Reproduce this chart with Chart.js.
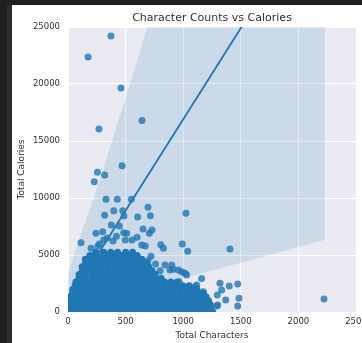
<!DOCTYPE html>
<html>
<head>
<meta charset="utf-8">
<script src="https://cdn.jsdelivr.net/npm/chart.js@4.4.1/dist/chart.umd.min.js"></script>
<style>
  html, body { margin: 0; padding: 0; background: #1f1f1f; width: 362px; height: 343px; overflow: hidden; }
  #edge { position: absolute; left: 7px; top: 5px; width: 5px; height: 338px; background: #2c2c2c; }
  #panel { position: absolute; left: 12px; top: 5px; width: 350px; height: 338px; background: #ffffff; }
  canvas { display: block; }
</style>
</head>
<body>
<div id="edge"></div>
<div id="panel"><canvas id="chart" width="350" height="338"></canvas></div>
<script>
const chartTitle = 'Character Counts vs Calories';
const xTitle = 'Total Characters';
const yTitle = 'Total Calories';

const xTicks = [0, 500, 1000, 1500, 2000, 2500];
const yTicks = [0, 5000, 10000, 15000, 20000, 25000];

// recipes away from the dense cluster
const sparseChars = [
  373, 174, 460, 642, 269, 469, 255, 318, 228, 330, 428, 550, 694, 1024, 397, 475,
  318, 486, 605, 715, 376, 446, 651, 729, 706, 243, 301, 483, 510, 497, 556, 391,
  310, 272, 113, 200, 260, 340, 420, 600, 671, 640, 805, 828, 992, 1039, 1406, 694,
  720, 760, 799, 842, 900, 914, 885, 958, 987, 1016, 1030, 1160, 966, 1117, 1102, 1175,
  1319, 1400, 1473, 1334, 1296, 1369, 1484, 1473, 1291, 1300, 1218, 1233, 2222
];
const sparseCalories = [
  24210, 22370, 19650, 16800, 16050, 12830, 12250, 12020, 11430, 9880, 9880, 9880, 9180, 8660, 8890, 8890,
  8480, 8420, 8330, 8450, 7630, 7540, 7280, 7190, 6900, 6900, 7050, 6960, 6900, 6320, 6320, 6230,
  6320, 5970, 6080, 5590, 5790, 6500, 6650, 6550, 5790, 5880, 5910, 5590, 5970, 5320, 5530, 4500,
  4900, 4200, 3620, 4120, 4120, 3750, 3680, 3680, 3540, 3390, 3250, 2930, 2660, 2370, 2220, 1780,
  2520, 2280, 2460, 1930, 1490, 1050, 1200, 530, 530, 610, 900, 240, 1140
];

// dense cluster of ordinary recipes, one row per calorie level
const clusterCalories = [0, 330, 660, 990, 1320, 1650, 1980, 2310, 2640, 2970, 3300, 3630, 3960, 4290, 4620, 4950, 5250];
const clusterChars = [
  [0, 52, 108, 163, 221, 274, 331, 383, 442, 497, 548, 604, 662, 713, 771, 826, 879, 934, 992, 1044, 1101, 1153, 1208, 1256],
  [0, 25, 80, 136, 190, 248, 302, 357, 412, 468, 522, 577, 633, 688, 742, 798, 853, 907, 963, 1018, 1072, 1128, 1183, 1240],
  [0, 54, 110, 166, 220, 276, 330, 386, 440, 495, 551, 606, 660, 716, 770, 825, 880, 936, 990, 1046, 1100, 1155, 1210, 1235],
  [0, 26, 81, 137, 192, 247, 303, 358, 412, 467, 523, 578, 632, 688, 743, 797, 852, 908, 962, 1017, 1073, 1128, 1182, 1220],
  [12, 65, 120, 175, 230, 285, 340, 395, 450, 505, 560, 615, 670, 725, 780, 835, 890, 945, 1000, 1055, 1110, 1160, 1200],
  [40, 94, 149, 204, 259, 314, 369, 424, 479, 534, 589, 644, 699, 754, 809, 864, 919, 974, 1029, 1084, 1139, 1175],
  [41, 96, 151, 206, 261, 316, 371, 426, 481, 536, 591, 646, 701, 756, 811, 866, 921, 976, 1031, 1086, 1120],
  [62, 117, 172, 227, 282, 337, 392, 447, 502, 557, 612, 667, 722, 777, 832, 887, 942, 997, 1052],
  [68, 123, 178, 233, 288, 343, 398, 453, 508, 563, 618, 673, 728, 783, 838, 893, 948],
  [95, 150, 205, 260, 315, 370, 425, 480, 535, 590, 645, 700, 755, 808],
  [96, 151, 206, 261, 316, 371, 426, 481, 536, 591, 646, 701, 756],
  [124, 179, 234, 289, 344, 399, 454, 509, 564, 619, 674, 728],
  [123, 178, 233, 288, 343, 398, 453, 508, 563, 618, 673, 700],
  [152, 207, 262, 317, 372, 427, 482, 537, 592, 647, 680],
  [151, 206, 261, 316, 371, 426, 481, 536, 591, 640],
  [190, 245, 300, 355, 410, 465, 520, 575, 600],
  [240, 310, 370, 430, 500, 560]
];

// fitted regression line and its confidence band
const fitChars = [0, 2230];
const fitCalories = [900, 36580];
const bandChars = [0, 50, 107, 165, 237, 382, 600, 816, 1000, 1500, 2230];
const bandLow = [-3000, -1200, 175, 800, 1342, 1781, 2150, 2450, 2950, 4330, 6330];
const bandHigh = [3400, 4900, 6700, 8300, 10400, 15000, 22000, 29500, 35500, 51000, 74000];

const clusterPoints = [];
clusterCalories.forEach((cal, i) => clusterChars[i].forEach(ch => clusterPoints.push({ x: ch, y: cal })));
const sparsePoints = sparseChars.map((ch, i) => ({ x: ch, y: sparseCalories[i] }));

const pairs = (xs, ys) => xs.map((x, i) => ({ x, y: ys[i] }));

const textColor = '#333333';
const family = '"DejaVu Sans", sans-serif';

const plotBackground = {
  id: 'plotBackground',
  beforeDraw(chart) {
    const { ctx, chartArea: a } = chart;
    ctx.save();
    ctx.fillStyle = '#eaeaf2';
    ctx.fillRect(a.left, a.top, a.right - a.left, a.bottom - a.top);
    ctx.restore();
  }
};

const plotTitle = {
  id: 'plotTitle',
  afterDraw(chart) {
    const { ctx, chartArea: a } = chart;
    ctx.save();
    ctx.font = '11px ' + family;
    ctx.fillStyle = textColor;
    ctx.textAlign = 'center';
    ctx.textBaseline = 'alphabetic';
    ctx.fillText(chartTitle, (a.left + a.right) / 2, 15.5);
    ctx.restore();
  }
};

new Chart(document.getElementById('chart'), {
  type: 'scatter',
  data: {
    datasets: [
      {
        // the crowded cluster overlaps so heavily that it reads as solid colour
        type: 'scatter',
        data: clusterPoints,
        backgroundColor: '#2077b4',
        borderWidth: 0,
        pointRadius: 3.5,
        clip: 0,
        order: 4
      },
      {
        type: 'scatter',
        data: sparsePoints,
        backgroundColor: 'rgba(31,119,180,0.8)',
        borderWidth: 0,
        pointRadius: 3.5,
        clip: 0,
        order: 3
      },
      {
        type: 'line',
        data: pairs(bandChars, bandLow),
        showLine: true,
        borderColor: 'rgba(0,0,0,0)',
        borderWidth: 0,
        pointRadius: 0,
        fill: false,
        order: 2
      },
      {
        type: 'line',
        data: pairs(bandChars, bandHigh),
        showLine: true,
        borderColor: 'rgba(0,0,0,0)',
        borderWidth: 0,
        pointRadius: 0,
        fill: '-1',
        backgroundColor: 'rgba(31,119,180,0.15)',
        order: 2
      },
      {
        type: 'line',
        data: pairs(fitChars, fitCalories),
        showLine: true,
        borderColor: '#1f77b4',
        borderWidth: 1.8,
        pointRadius: 0,
        fill: false,
        order: 1
      }
    ]
  },
  options: {
    responsive: false,
    animation: false,
    devicePixelRatio: 1,
    layout: { padding: { top: 22, right: 6, left: 0, bottom: 0 } },
    plugins: { legend: { display: false }, tooltip: { enabled: false } },
    scales: {
      x: {
        type: 'linear',
        min: xTicks[0],
        max: xTicks[xTicks.length - 1],
        afterBuildTicks: s => { s.ticks = xTicks.map(v => ({ value: v })); },
        afterFit: s => { s.height = 31; s.paddingLeft = 0; s.paddingRight = 0; },
        grid: { color: '#ffffff', lineWidth: 1, drawTicks: false },
        border: { display: false },
        ticks: { padding: 5, color: textColor, maxRotation: 0, autoSkip: false,
                 font: { family, size: 8.5 }, callback: v => String(v) },
        title: { display: true, text: xTitle, color: textColor,
                 font: { family, size: 9 }, padding: { top: 0, bottom: 2 } }
      },
      y: {
        type: 'linear',
        min: yTicks[0],
        max: yTicks[yTicks.length - 1],
        afterBuildTicks: s => { s.ticks = yTicks.map(v => ({ value: v })); },
        afterFit: s => { s.width = 56; s.paddingTop = 0; s.paddingBottom = 0; },
        grid: { color: '#ffffff', lineWidth: 1, drawTicks: false },
        border: { display: false },
        ticks: { padding: 8, color: textColor, autoSkip: false,
                 font: { family, size: 8.5 }, callback: v => String(v) },
        title: { display: true, text: yTitle, color: textColor,
                 font: { family, size: 9 }, padding: { top: 4, bottom: 0 } }
      }
    }
  },
  plugins: [plotBackground, plotTitle]
});
</script>
</body>
</html>
